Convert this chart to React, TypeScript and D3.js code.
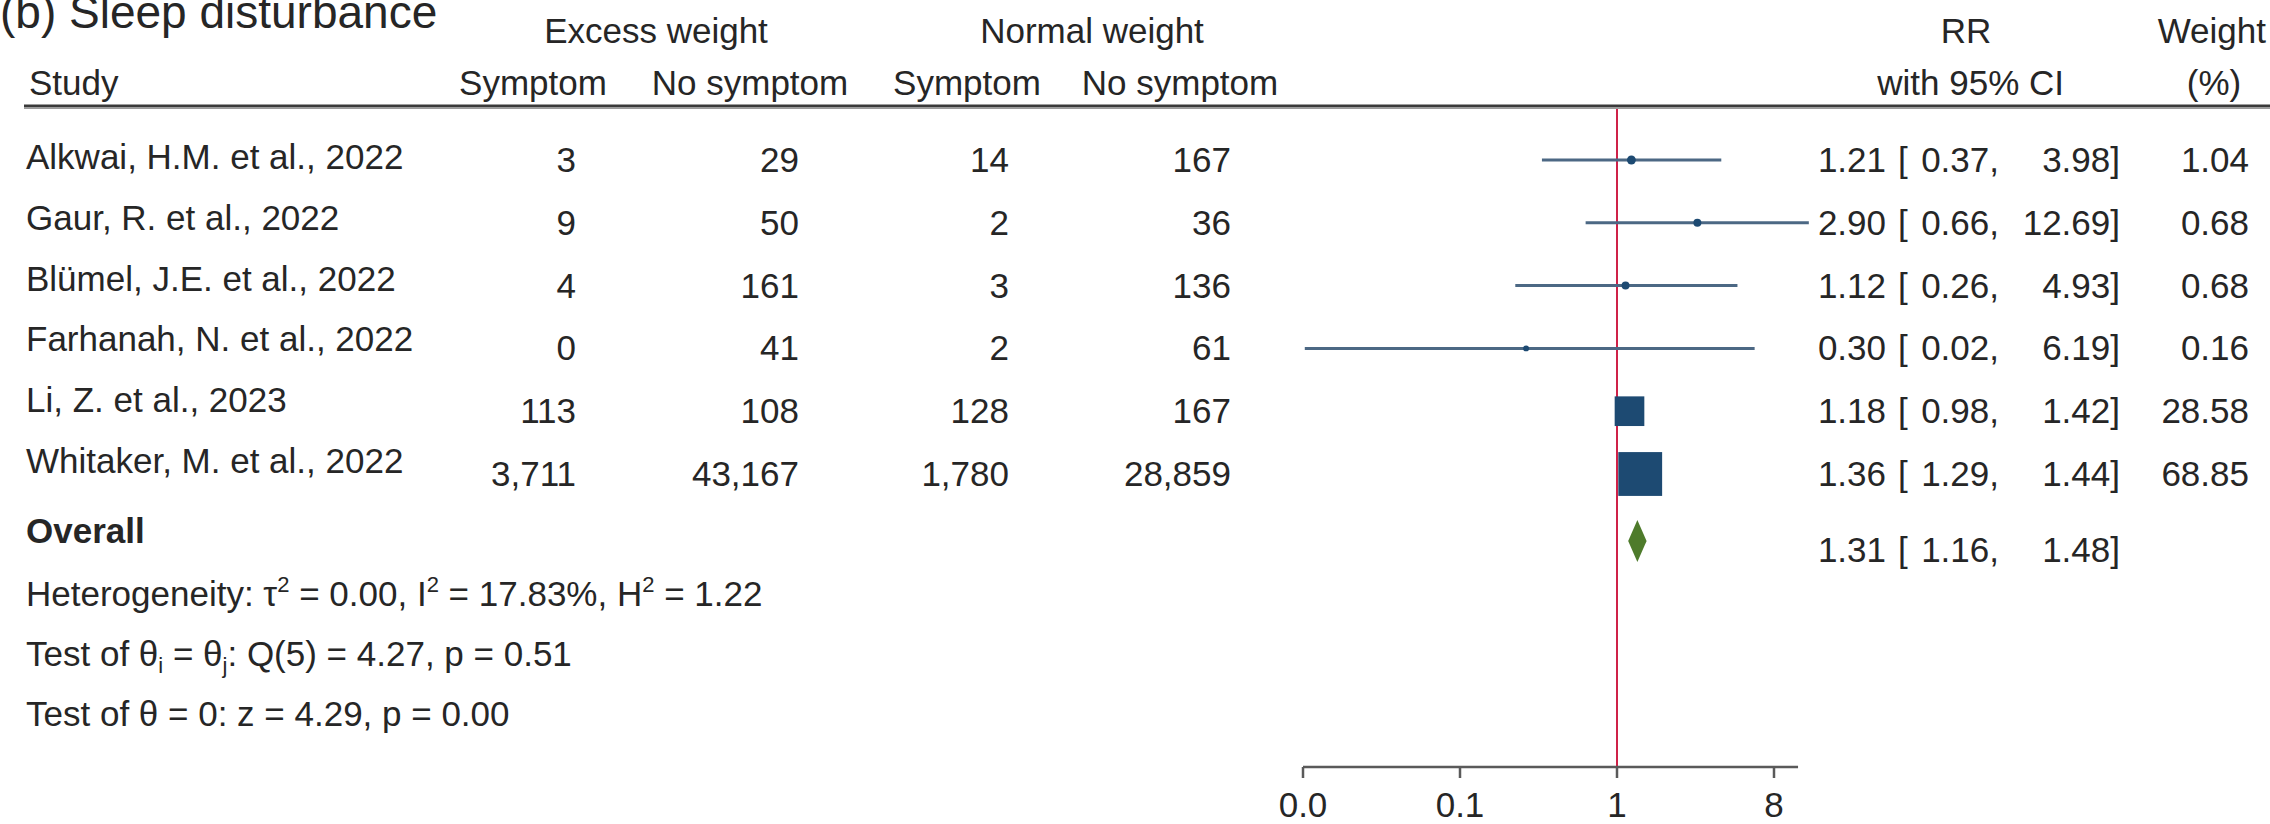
import * as d3 from 'd3';

// study rows
const studies = [
  'Alkwai, H.M. et al., 2022',
  'Gaur, R. et al., 2022',
  'Blümel, J.E. et al., 2022',
  'Farhanah, N. et al., 2022',
  'Li, Z. et al., 2023',
  'Whitaker, M. et al., 2022',
];
const excessSymptom = [3, 9, 4, 0, 113, 3711];
const excessNoSymptom = [29, 50, 161, 41, 108, 43167];
const normalSymptom = [14, 2, 3, 2, 128, 1780];
const normalNoSymptom = [167, 36, 136, 61, 167, 28859];
const rr = [1.21, 2.9, 1.12, 0.3, 1.18, 1.36];
const ciLow = [0.37, 0.66, 0.26, 0.016, 0.98, 1.29];
const ciHigh = [3.98, 12.69, 4.93, 6.19, 1.42, 1.44];
const weights = [1.04, 0.68, 0.68, 0.16, 28.58, 68.85];

// pooled estimate
const overallRR = [1.31];
const overallLow = [1.16];
const overallHigh = [1.48];

// axis
const axisTicks = [1 / 64, 1 / 8, 1, 8];
const axisTickLabels = ['0.0', '0.1', '1', '8'];

const W = 2270;
const H = 824;
const FONT = '"Liberation Sans", Arial, sans-serif';
const FS = 35;
const TEXT = '#262626';

export default function App() {
  const x = d3.scaleLog().base(2).domain([1 / 64, 8]).range([1303, 1774]);
  const rowY = d3.scaleLinear().domain([0, studies.length - 1]).range([160, 474]);
  const nameY = d3.scaleLinear().domain([0, studies.length - 1]).range([157, 461]);
  // marker size grows with study weight
  const size = (w: number) => 4 + 4.8 * Math.sqrt(w);
  const fmtN = d3.format(',');
  const f2 = d3.format('.2f');

  const axisY = 767;
  const headerLineY = 106;
  const overallY = 541;

  const countCols = [
    { right: 576, values: excessSymptom },
    { right: 799, values: excessNoSymptom },
    { right: 1009, values: normalSymptom },
    { right: 1231, values: normalNoSymptom },
  ];

  const ciText = (i: number, r: number, lo: number, hi: number, w: number | null, y: number) => (
    <g key={'ci' + i}>
      <text x={1886} y={y} textAnchor="end">{f2(r)}</text>
      <text x={1898} y={y}>[</text>
      <text x={1999} y={y} textAnchor="end">{f2(lo)},</text>
      <text x={2120} y={y} textAnchor="end">{f2(hi)}]</text>
      {w !== null && <text x={2249} y={y} textAnchor="end">{f2(w)}</text>}
    </g>
  );

  const xMin = x.domain()[0];
  const diamond = [
    [x(overallLow[0]), overallY],
    [x(overallRR[0]), overallY - 21],
    [x(overallHigh[0]), overallY],
    [x(overallRR[0]), overallY + 21],
  ];

  return (
    <svg
      width={W}
      height={H}
      style={{ position: 'absolute', left: 0, top: 0, background: '#fff' }}
      fontFamily={FONT}
      fontSize={FS}
      fill={TEXT}
    >
      {/* title */}
      <text x={0} y={28} fontSize={46}>(b) Sleep disturbance</text>

      {/* headers */}
      <text x={656} y={43} textAnchor="middle">Excess weight</text>
      <text x={1092} y={43} textAnchor="middle">Normal weight</text>
      <text x={1966} y={43} textAnchor="middle">RR</text>
      <text x={2266} y={43} textAnchor="end">Weight</text>

      <text x={29} y={95}>Study</text>
      <text x={533} y={95} textAnchor="middle">Symptom</text>
      <text x={750} y={95} textAnchor="middle">No symptom</text>
      <text x={967} y={95} textAnchor="middle">Symptom</text>
      <text x={1180} y={95} textAnchor="middle">No symptom</text>
      <text x={2064} y={95} textAnchor="end">with 95% CI</text>
      <text x={2214} y={95} textAnchor="middle">(%)</text>

      <line x1={24} x2={W} y1={headerLineY} y2={headerLineY} stroke="#3a3a3a" strokeWidth={3} />
      <line x1={24} x2={W} y1={headerLineY + 2.5} y2={headerLineY + 2.5} stroke="#9a9a9a" strokeWidth={1} />

      {/* study names and counts */}
      {studies.map((s, i) => (
        <text key={s} x={26} y={nameY(i) + 12}>{s}</text>
      ))}
      {countCols.map((c, ci) =>
        c.values.map((v, i) => (
          <text key={ci + '-' + i} x={c.right} y={rowY(i) + 12} textAnchor="end">{fmtN(v)}</text>
        ))
      )}

      {/* reference line at RR = 1 */}
      <line x1={x(1)} x2={x(1)} y1={headerLineY + 3} y2={axisY} stroke="#cf2248" strokeWidth={2} />

      {/* CI lines and markers */}
      {studies.map((s, i) => {
        const y = rowY(i);
        const sz = size(weights[i]);
        return (
          <g key={'m' + i}>
            <line
              x1={x(Math.max(ciLow[i], xMin))}
              x2={x(ciHigh[i])}
              y1={y}
              y2={y}
              stroke="#4c6884"
              strokeWidth={3}
            />
            <rect
              x={x(rr[i]) - sz / 2}
              y={y - sz / 2}
              width={sz}
              height={sz}
              rx={sz < 12 ? sz / 2 : 0}
              fill="#1d4a72"
            />
          </g>
        );
      })}

      {/* overall diamond */}
      <polygon points={diamond.map((p) => p.join(',')).join(' ')} fill="#4e7b2b" />

      {/* right-hand statistics */}
      {studies.map((s, i) => ciText(i, rr[i], ciLow[i], ciHigh[i], weights[i], rowY(i) + 12))}
      {ciText(99, overallRR[0], overallLow[0], overallHigh[0], null, overallY + 21)}

      {/* overall and tests */}
      <text x={26} y={543} fontWeight="bold">Overall</text>
      <text x={26} y={606}>
        Heterogeneity: τ<tspan fontSize={22} dy={-14}>2</tspan>
        <tspan dy={14}> = 0.00, I</tspan>
        <tspan fontSize={22} dy={-14}>2</tspan>
        <tspan dy={14}> = 17.83%, H</tspan>
        <tspan fontSize={22} dy={-14}>2</tspan>
        <tspan dy={14}> = 1.22</tspan>
      </text>
      <text x={26} y={666}>
        Test of θ<tspan fontSize={22} dy={7}>i</tspan>
        <tspan dy={-7}> = θ</tspan>
        <tspan fontSize={22} dy={7}>j</tspan>
        <tspan dy={-7}>: Q(5) = 4.27, p = 0.51</tspan>
      </text>
      <text x={26} y={726}>Test of θ = 0: z = 4.29, p = 0.00</text>

      {/* axis */}
      <line x1={x(1 / 64)} x2={x(11)} y1={axisY} y2={axisY} stroke="#5a5a5a" strokeWidth={2.5} />
      {axisTicks.map((t, i) => (
        <g key={'t' + i}>
          <line x1={x(t)} x2={x(t)} y1={axisY} y2={axisY + 11} stroke="#5a5a5a" strokeWidth={2.5} />
          <text x={x(t)} y={817} textAnchor="middle">{axisTickLabels[i]}</text>
        </g>
      ))}
    </svg>
  );
}
